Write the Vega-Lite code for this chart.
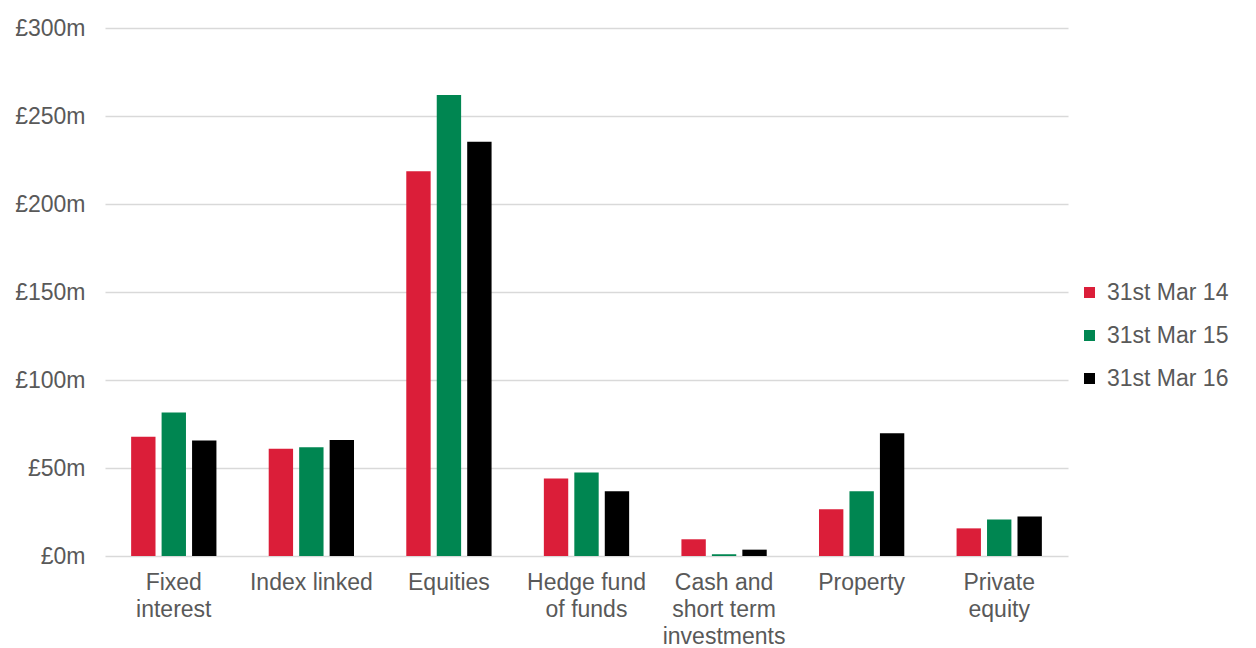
{
  "$schema": "https://vega.github.io/schema/vega-lite/v6.json",
  "width": 963,
  "height": 528,
  "autosize": {"type": "none"},
  "padding": {"left": 105, "top": 28, "right": 188, "bottom": 92},
  "background": "#ffffff",
  "config": {
    "view": {"stroke": null},
    "font": "Liberation Sans"
  },
  "data": {
    "values": [
      {"asset": "Fixed interest", "date": "31st Mar 14", "value": 67.8},
      {"asset": "Fixed interest", "date": "31st Mar 15", "value": 81.6},
      {"asset": "Fixed interest", "date": "31st Mar 16", "value": 65.6},
      {"asset": "Index linked", "date": "31st Mar 14", "value": 61.0},
      {"asset": "Index linked", "date": "31st Mar 15", "value": 61.8},
      {"asset": "Index linked", "date": "31st Mar 16", "value": 65.9},
      {"asset": "Equities", "date": "31st Mar 14", "value": 218.6},
      {"asset": "Equities", "date": "31st Mar 15", "value": 262.0},
      {"asset": "Equities", "date": "31st Mar 16", "value": 235.3},
      {"asset": "Hedge fund of funds", "date": "31st Mar 14", "value": 44.0},
      {"asset": "Hedge fund of funds", "date": "31st Mar 15", "value": 47.4},
      {"asset": "Hedge fund of funds", "date": "31st Mar 16", "value": 36.8},
      {"asset": "Cash and short term investments", "date": "31st Mar 14", "value": 9.5},
      {"asset": "Cash and short term investments", "date": "31st Mar 15", "value": 1.0},
      {"asset": "Cash and short term investments", "date": "31st Mar 16", "value": 3.6},
      {"asset": "Property", "date": "31st Mar 14", "value": 26.5},
      {"asset": "Property", "date": "31st Mar 15", "value": 36.8},
      {"asset": "Property", "date": "31st Mar 16", "value": 69.7},
      {"asset": "Private equity", "date": "31st Mar 14", "value": 15.7},
      {"asset": "Private equity", "date": "31st Mar 15", "value": 20.8},
      {"asset": "Private equity", "date": "31st Mar 16", "value": 22.4}
    ]
  },
  "mark": {"type": "bar"},
  "encoding": {
    "x": {
      "field": "asset",
      "type": "nominal",
      "sort": ["Fixed interest", "Index linked", "Equities", "Hedge fund of funds", "Cash and short term investments", "Property", "Private equity"],
      "scale": {"paddingInner": 0.38, "paddingOuter": 0.19},
      "axis": {
        "title": null,
        "labelAngle": 0,
        "domain": false,
        "ticks": false,
        "labelFontSize": 23,
        "labelColor": "#595959",
        "labelPadding": 15,
        "labelLineHeight": 27,
        "labelBaseline": "top",
        "labelExpr": "datum.value == 'Fixed interest' ? ['Fixed','interest'] : datum.value == 'Hedge fund of funds' ? ['Hedge fund','of funds'] : datum.value == 'Cash and short term investments' ? ['Cash and','short term','investments'] : datum.value == 'Private equity' ? ['Private','equity'] : datum.value"
      }
    },
    "xOffset": {
      "field": "date",
      "type": "nominal",
      "sort": ["31st Mar 14", "31st Mar 15", "31st Mar 16"],
      "scale": {"paddingInner": 0.2, "paddingOuter": 0}
    },
    "y": {
      "field": "value",
      "type": "quantitative",
      "scale": {"domain": [0, 300], "nice": false},
      "axis": {
        "title": null,
        "values": [0, 50, 100, 150, 200, 250, 300],
        "labelExpr": "'£' + datum.value + 'm'",
        "domain": false,
        "ticks": false,
        "grid": true,
        "gridColor": "#d9d9d9",
        "gridWidth": 1.5,
        "labelFontSize": 23,
        "labelColor": "#595959",
        "labelPadding": 20
      }
    },
    "color": {
      "field": "date",
      "type": "nominal",
      "scale": {
        "domain": ["31st Mar 14", "31st Mar 15", "31st Mar 16"],
        "range": ["#db1e39", "#008651", "#000000"]
      },
      "legend": {
        "title": null,
        "orient": "none",
        "legendX": 973,
        "legendY": 253,
        "symbolType": "square",
        "symbolSize": 121,
        "symbolStrokeWidth": 0,
        "labelFontSize": 23,
        "labelColor": "#595959",
        "labelOffset": 6,
        "rowPadding": 19,
        "padding": 0
      }
    }
  }
}
